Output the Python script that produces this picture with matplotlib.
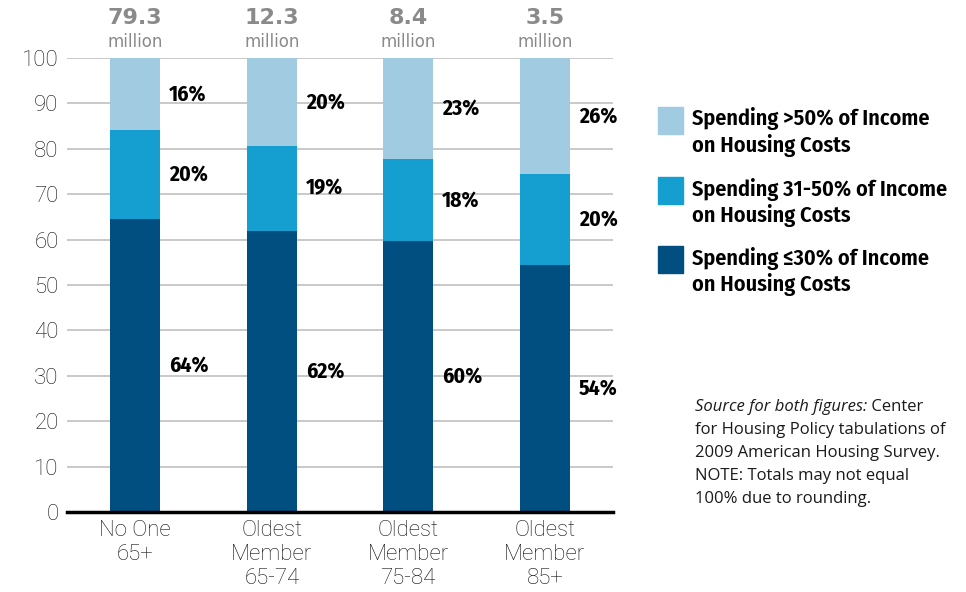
import matplotlib.pyplot as plt
from matplotlib.patches import Rectangle
import numpy as np

# Daten (Anteile in Prozent)
groups = ["No One\n65+", "Oldest\nMember\n65-74", "Oldest\nMember\n75-84", "Oldest\nMember\n85+"]
totals = ["79.3", "12.3", "8.4", "3.5"]
low = [64.5, 61.9, 59.7, 54.4]      # <=30%
mid = [19.6, 18.7, 18.1, 20.0]      # 31-50%
high = [15.9, 19.4, 22.2, 25.6]     # >50%
low_lbl = ["64%", "62%", "60%", "54%"]
mid_lbl = ["20%", "19%", "18%", "20%"]
high_lbl = ["16%", "20%", "23%", "26%"]

c_low = "#004f80"
c_mid = "#149fd0"
c_high = "#a0cbe1"

cond = ["Fira Sans Condensed", "DejaVu Sans"]
tickfont = ["Roboto", "DejaVu Sans"]
srcfont = ["Open Sans", "DejaVu Sans"]

fig = plt.figure(figsize=(9.66, 5.92), dpi=100)
ax = fig.add_axes([0.0694, 0.1351, 0.5652, 0.7669])

x = np.arange(len(groups))
w = 0.366
bottom2 = np.array(low) + np.array(mid)
ax.bar(x, low, w, color=c_low, zorder=2)
ax.bar(x, mid, w, bottom=low, color=c_mid, zorder=2)
ax.bar(x, high, w, bottom=bottom2, color=c_high, zorder=2)

# Beschriftungen neben den Balken
for i in range(len(x)):
    xl = x[i] + w / 2 + 0.065
    ax.text(xl, low[i] / 2, low_lbl[i], fontsize=15.5, fontweight="bold",
            family=cond, va="center", ha="left")
    ax.text(xl, low[i] + mid[i] / 2, mid_lbl[i], fontsize=15.5, fontweight="bold",
            family=cond, va="center", ha="left")
    ax.text(xl, bottom2[i] + high[i] / 2, high_lbl[i], fontsize=15.5, fontweight="bold",
            family=cond, va="center", ha="left")
    ax.text(x[i], 1.088, totals[i], transform=ax.get_xaxis_transform(),
            fontsize=16, fontweight="bold", color="#8a8a8a", ha="center", va="center")
    ax.text(x[i], 1.035, "million", transform=ax.get_xaxis_transform(),
            fontsize=12, color="#8a8a8a", ha="center", va="center")

ax.set_xlim(-0.5, 3.5)
ax.set_ylim(0, 100)
ax.set_yticks(range(0, 101, 10))
ax.set_xticks(x)
ax.set_xticklabels(groups, linespacing=1.17)
for lab in ax.get_xticklabels() + ax.get_yticklabels():
    lab.set_family(tickfont)
    lab.set_fontweight("light")
    lab.set_fontsize(16)
    lab.set_color("#111111")
ax.tick_params(length=0, pad=6)
ax.yaxis.grid(True, color="#c0c0c0", linewidth=1.2, zorder=0)
ax.set_axisbelow(True)
for s in ["top", "right", "left"]:
    ax.spines[s].set_visible(False)
ax.spines["bottom"].set_linewidth(2.5)
ax.spines["bottom"].set_zorder(3)

# Legende
leg = [("Spending >50% of Income\non Housing Costs", c_high, 0.774),
       ("Spending 31-50% of Income\non Housing Costs", c_mid, 0.655),
       ("Spending \u226430% of Income\non Housing Costs", c_low, 0.539)]
for txt, col, yb in leg:
    fig.add_artist(Rectangle((0.681, yb), 0.026, 0.0456, color=col,
                             transform=fig.transFigure))
    fig.text(0.716, yb + 0.0456 - 0.001, txt, fontsize=16, fontweight=600,
             family=cond, va="top", ha="left", linespacing=1.2)

# Quelle
r = fig.canvas.get_renderer()
y0 = 1 - 411 / 592
dy = 23 / 592
t1 = fig.text(0.719, y0, "Source for both figures:", fontsize=12, style="italic",
              family=srcfont, va="baseline", color="#1a1a1a")
bb = t1.get_window_extent(renderer=r)
fig.text(bb.x1 / fig.bbox.width, y0, " Center", fontsize=12,
         family=srcfont, va="baseline", color="#1a1a1a")
src = ["for Housing Policy tabulations of", "2009 American Housing Survey.",
       "NOTE: Totals may not equal", "100% due to rounding."]
for k, line in enumerate(src):
    fig.text(0.719, y0 - (k + 1) * dy, line, fontsize=12, family=srcfont,
             va="baseline", color="#1a1a1a")

plt.savefig("out.png", dpi=100)
